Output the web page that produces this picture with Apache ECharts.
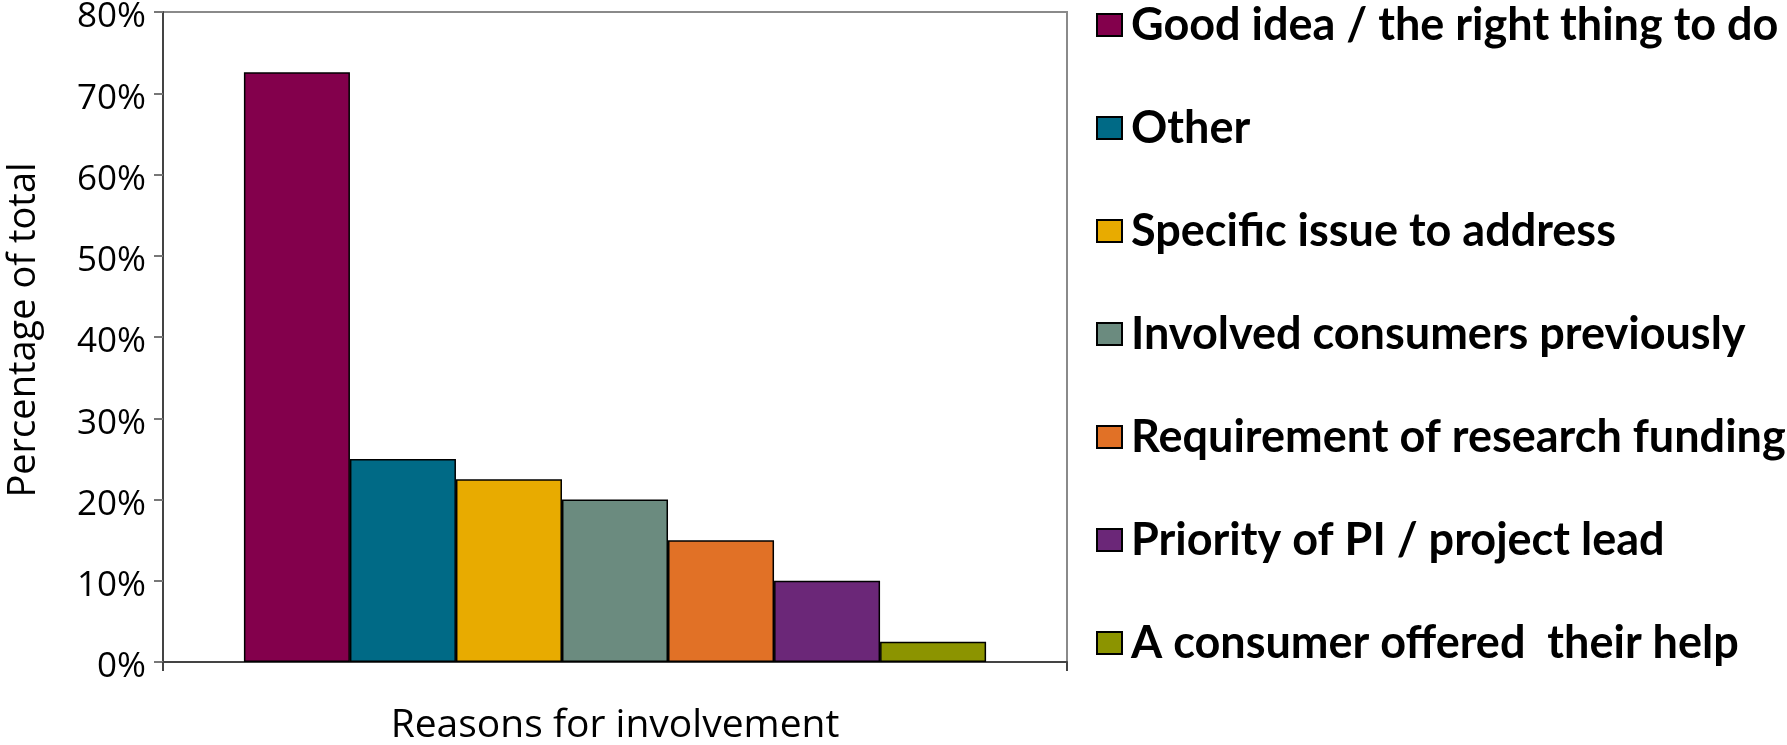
<!DOCTYPE html>
<html>
<head>
<meta charset="utf-8">
<script src="https://cdn.jsdelivr.net/npm/echarts@6/dist/echarts.min.js"></script>
<style>
  html, body { margin: 0; padding: 0; background: #fff; }
  #chart { width: 1787px; height: 745px; }
</style>
</head>
<body>
<div id="chart"></div>
<script>
  // reasons (legend order) and their share of the total, in percent
  const reasons = [
    'Good idea / the right thing to do',
    'Other',
    'Specific issue to address',
    'Involved consumers previously',
    'Requirement of research funding',
    'Priority of PI / project lead',
    'A consumer offered  their help'
  ]
  const shares = [72.6, 25, 22.5, 20, 15, 10, 2.5]
  const barColors = ['#83004C', '#006A86', '#E8AB00', '#6B8B7F', '#E17126', '#6B2778', '#8C9400']
  const categories = ['']

  let myChart = echarts.init(document.getElementById('chart'))

  const showData = []
  for (let i = 0; i < reasons.length; i++) {
    showData.push({
      name: reasons[i],
      type: 'bar',
      barGap: '0%',
      barCategoryGap: '17.9%',
      itemStyle: { color: barColors[i], borderColor: '#000', borderWidth: 1.5 },
      data: [shares[i]]
    })
  }

  const axisFont = "'Open Sans', 'Noto Sans', sans-serif"

  let option = {
    animation: false,
    color: barColors,
    grid: {
      left: 163, right: 720, top: 12, bottom: 83,
      containLabel: false,
      outerBoundsMode: 'none',
      show: true, borderColor: '#8a8a8a', borderWidth: 2
    },
    legend: {
      orient: 'vertical',
      left: 1091,
      top: -3,
      itemWidth: 25,
      itemHeight: 22,
      itemGap: 57,
      icon: 'rect',
      itemStyle: { borderColor: '#000', borderWidth: 2 },
      textStyle: {
        fontFamily: "Lato, 'Liberation Sans', sans-serif",
        fontWeight: 'bold',
        fontSize: 45,
        lineHeight: 46,
        color: '#000',
        padding: [0, 0, 0, 4]
      },
      data: reasons
    },
    xAxis: {
      type: 'category',
      data: categories,
      name: 'Reasons for involvement',
      nameLocation: 'middle',
      nameGap: 44,
      nameTextStyle: { fontFamily: axisFont, fontSize: 39, color: '#000' },
      axisLine: { lineStyle: { color: '#444', width: 2 } },
      axisTick: { show: true, length: 9, lineStyle: { color: '#444', width: 2 } },
      axisLabel: { show: false }
    },
    yAxis: {
      type: 'value',
      min: 0,
      max: 80,
      interval: 10,
      name: 'Percentage of total',
      nameLocation: 'middle',
      nameGap: 120,
      nameTextStyle: { fontFamily: axisFont, fontSize: 38, color: '#000', padding: [0, 0, 0, 14] },
      axisLine: { show: true, lineStyle: { color: '#444', width: 2 } },
      axisTick: { show: true, length: 9, lineStyle: { color: '#777', width: 2 } },
      splitLine: { show: false },
      axisLabel: {
        formatter: '{value}%',
        margin: 17,
        verticalAlign: 'top',
        padding: [-12, 0, 0, 0],
        fontFamily: axisFont,
        fontSize: 35,
        color: '#000'
      }
    },
    series: showData
  }

  myChart.setOption(option)
</script>
</body>
</html>
